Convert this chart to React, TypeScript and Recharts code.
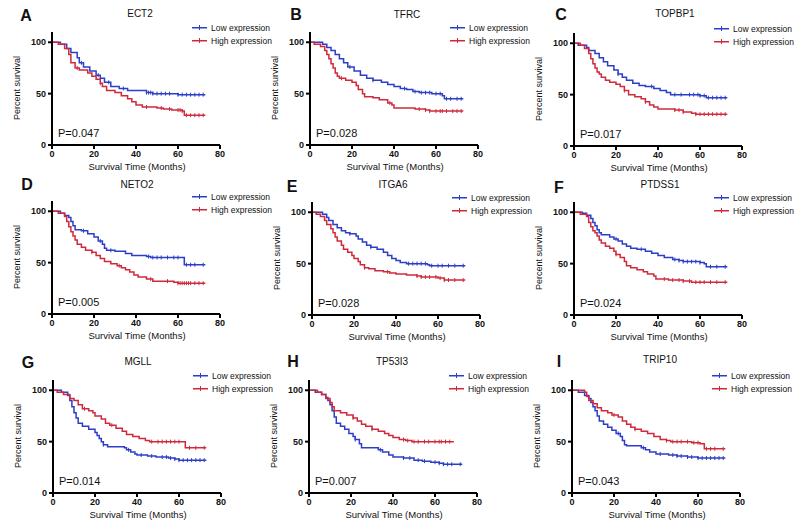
import React from 'react';
import { LineChart, Line, XAxis, YAxis } from 'recharts';

type Step = [number, number];

const timeTicks = [0, 20, 40, 60, 80];
const survivalTicks = [0, 50, 100];
const seriesNames = ['Low expression', 'High expression'];
const seriesColors = ['#2c3ec6', '#cf2a3c'];

// survival steps [month, percent] and censor months
const ect2Low: Step[] = [[0, 100], [4, 98], [7, 94], [9, 90], [12, 85], [13, 80], [15, 76], [18, 72], [21, 68], [23, 65], [25, 61], [28, 57], [32, 55], [36, 53], [45, 51], [48, 50], [60, 49]];
const ect2High: Step[] = [[0, 100], [3, 98], [6, 94], [8, 88], [9, 80], [11, 75], [13, 73], [17, 70], [19, 67], [21, 64], [23, 60], [24, 57], [26, 53], [30, 51], [33, 48], [36, 45], [38, 42], [40, 39], [43, 37], [50, 36], [53, 35], [57, 34], [62, 33], [63, 29]];
const ect2LowCens = [14, 22, 27, 34, 45, 46, 47, 48, 50, 52, 54, 56, 60, 62, 64, 66, 68, 70, 72];
const ect2HighCens = [12, 23, 45, 52, 56, 60, 61, 62, 64, 66, 68, 70, 72];

const tfrcLow: Step[] = [[0, 100], [6, 98], [8, 95], [10, 92], [12, 88], [14, 84], [16, 80], [18, 76], [21, 72], [24, 68], [27, 65], [30, 63], [34, 61], [37, 59], [40, 57], [43, 55], [46, 54], [49, 52], [52, 51], [58, 50], [63, 48], [64, 45]];
const tfrcHigh: Step[] = [[0, 100], [2, 98], [5, 96], [7, 92], [8, 88], [9, 84], [10, 79], [11, 75], [12, 70], [13, 67], [14, 65], [17, 63], [20, 61], [22, 58], [23, 54], [25, 50], [26, 47], [30, 46], [33, 44], [37, 41], [39, 39], [40, 36], [50, 35], [55, 34], [57, 33]];
const tfrcLowCens = [19, 30, 45, 50, 53, 55, 57, 60, 62, 65, 67, 70, 72];
const tfrcHighCens = [15, 38, 52, 55, 57, 60, 62, 63, 65, 68, 70, 72];

const topbp1Low: Step[] = [[0, 100], [2, 98], [6, 96], [7, 93], [10, 90], [12, 86], [14, 82], [16, 78], [19, 74], [21, 70], [23, 67], [25, 64], [28, 61], [31, 59], [34, 58], [38, 56], [41, 54], [44, 52], [46, 50], [60, 49], [63, 47]];
const topbp1High: Step[] = [[0, 100], [3, 98], [5, 95], [7, 90], [8, 85], [9, 80], [10, 76], [11, 72], [12, 70], [13, 67], [15, 64], [17, 62], [20, 60], [22, 58], [24, 54], [26, 50], [29, 48], [32, 46], [34, 43], [36, 40], [38, 38], [40, 36], [48, 35], [52, 33], [56, 32], [58, 31]];
const topbp1LowCens = [21, 37, 48, 51, 55, 57, 59, 60, 62, 64, 66, 68, 70, 72];
const topbp1HighCens = [24, 34, 48, 50, 52, 58, 60, 62, 64, 66, 68, 70, 72];

const neto2Low: Step[] = [[0, 100], [4, 98], [6, 96], [8, 94], [9, 90], [10, 86], [11, 82], [14, 81], [17, 78], [20, 75], [22, 71], [24, 68], [25, 64], [26, 62], [30, 61], [35, 59], [38, 57], [45, 56], [47, 55], [63, 48]];
const neto2High: Step[] = [[0, 100], [3, 98], [6, 95], [7, 90], [8, 85], [9, 80], [10, 76], [11, 72], [12, 68], [14, 65], [16, 62], [19, 60], [21, 57], [23, 54], [25, 51], [28, 49], [31, 47], [33, 45], [35, 43], [37, 41], [39, 38], [41, 36], [45, 34], [48, 32], [58, 31], [60, 30]];
const neto2LowCens = [15, 23, 28, 46, 48, 50, 52, 55, 58, 60, 64, 66, 68, 72];
const neto2HighCens = [19, 32, 47, 55, 60, 61, 62, 63, 64, 65, 66, 68, 70, 72];

const itga6Low: Step[] = [[0, 100], [5, 98], [7, 95], [8, 92], [10, 88], [12, 85], [14, 82], [16, 80], [18, 79], [21, 77], [22, 74], [24, 71], [26, 68], [28, 66], [31, 64], [34, 61], [36, 58], [38, 55], [40, 53], [42, 51], [45, 50], [55, 49], [56, 48]];
const itga6High: Step[] = [[0, 100], [2, 98], [4, 96], [6, 92], [7, 88], [9, 84], [10, 80], [11, 76], [12, 72], [14, 68], [15, 64], [17, 61], [19, 58], [20, 55], [22, 52], [23, 49], [25, 46], [27, 45], [30, 43], [34, 42], [37, 41], [40, 40], [45, 39], [50, 38], [52, 37], [60, 36], [63, 34]];
const itga6LowCens = [18, 28, 46, 48, 50, 52, 54, 57, 60, 62, 65, 68, 72];
const itga6HighCens = [25, 36, 50, 52, 54, 56, 59, 61, 63, 65, 68, 72];

const ptdss1Low: Step[] = [[0, 100], [4, 99], [6, 97], [8, 94], [9, 90], [10, 87], [11, 83], [12, 80], [13, 78], [17, 76], [19, 74], [21, 72], [23, 69], [25, 67], [27, 65], [30, 64], [34, 62], [37, 60], [40, 58], [43, 56], [47, 54], [50, 53], [52, 52], [60, 51], [62, 50], [63, 47]];
const ptdss1High: Step[] = [[0, 100], [3, 98], [6, 96], [7, 90], [8, 86], [9, 82], [10, 80], [11, 77], [12, 73], [13, 70], [15, 67], [17, 65], [19, 62], [20, 59], [22, 56], [24, 52], [25, 48], [27, 46], [30, 44], [33, 42], [35, 40], [38, 38], [39, 35], [45, 34], [52, 33], [56, 32]];
const ptdss1LowCens = [20, 32, 48, 50, 52, 54, 56, 58, 60, 65, 68, 72];
const ptdss1HighCens = [20, 43, 47, 50, 52, 55, 58, 60, 62, 65, 68, 72];

const mgllLow: Step[] = [[0, 100], [4, 98], [7, 95], [8, 90], [9, 84], [10, 78], [11, 73], [12, 68], [14, 65], [17, 62], [20, 59], [21, 56], [22, 53], [23, 50], [24, 47], [26, 45], [34, 44], [35, 42], [37, 40], [39, 38], [40, 37], [45, 36], [49, 35], [55, 34], [58, 33], [60, 32]];
const mgllHigh: Step[] = [[0, 100], [2, 98], [5, 96], [8, 92], [10, 90], [12, 86], [14, 82], [17, 80], [19, 78], [20, 75], [23, 72], [25, 68], [27, 66], [30, 63], [33, 60], [35, 57], [38, 55], [41, 53], [44, 51], [46, 50], [63, 44]];
const mgllLowCens = [24, 36, 42, 47, 52, 54, 56, 58, 60, 62, 64, 66, 68, 70, 72];
const mgllHighCens = [15, 28, 47, 50, 52, 54, 56, 58, 60, 65, 68, 72];

const tp53i3Low: Step[] = [[0, 100], [3, 98], [6, 96], [8, 93], [9, 90], [10, 86], [11, 80], [12, 74], [13, 68], [15, 65], [17, 62], [19, 58], [21, 55], [22, 52], [24, 48], [25, 44], [33, 42], [35, 40], [38, 37], [40, 35], [45, 34], [50, 32], [54, 31], [58, 30], [62, 29], [64, 28]];
const tp53i3High: Step[] = [[0, 100], [4, 98], [6, 96], [8, 92], [10, 88], [11, 84], [12, 80], [15, 78], [18, 76], [21, 73], [23, 70], [25, 67], [27, 65], [30, 62], [33, 60], [36, 58], [38, 56], [40, 54], [43, 52], [46, 51], [49, 50]];
const tp53i3LowCens = [22, 34, 45, 48, 52, 55, 60, 62, 64, 66, 68, 72];
const tp53i3HighCens = [21, 30, 45, 47, 50, 52, 55, 57, 60, 62, 63, 65, 67];

const trip10Low: Step[] = [[0, 100], [3, 98], [6, 95], [8, 92], [9, 88], [10, 84], [11, 80], [12, 75], [13, 70], [15, 67], [17, 64], [19, 61], [21, 58], [23, 55], [24, 51], [25, 47], [26, 46], [33, 44], [35, 42], [37, 40], [40, 38], [46, 37], [50, 36], [55, 35], [60, 34]];
const trip10High: Step[] = [[0, 100], [6, 98], [7, 94], [8, 90], [10, 87], [12, 83], [14, 80], [17, 78], [19, 76], [22, 74], [24, 70], [26, 67], [28, 64], [30, 62], [33, 60], [36, 58], [39, 55], [42, 52], [45, 51], [47, 50], [57, 49], [61, 48], [63, 43]];
const trip10LowCens = [22, 34, 42, 48, 50, 52, 55, 57, 60, 62, 64, 66, 68, 70, 72];
const trip10HighCens = [20, 30, 45, 48, 50, 52, 55, 58, 60, 64, 66, 68, 72];

// follow-up end (months) per curve
const lowEnds = [73, 73, 73, 73, 73, 73, 73, 73, 73];
const highEnds = [73, 73, 73, 73, 73, 73, 73, 69, 73];

const genes = ['ECT2', 'TFRC', 'TOPBP1', 'NETO2', 'ITGA6', 'PTDSS1', 'MGLL', 'TP53I3', 'TRIP10'];
const letters = ['A', 'B', 'C', 'D', 'E', 'F', 'G', 'H', 'I'];
const pValues = ['P=0.047', 'P=0.028', 'P=0.017', 'P=0.005', 'P=0.028', 'P=0.024', 'P=0.014', 'P=0.007', 'P=0.043'];

const lowSteps = [ect2Low, tfrcLow, topbp1Low, neto2Low, itga6Low, ptdss1Low, mgllLow, tp53i3Low, trip10Low];
const highSteps = [ect2High, tfrcHigh, topbp1High, neto2High, itga6High, ptdss1High, mgllHigh, tp53i3High, trip10High];
const lowCens = [ect2LowCens, tfrcLowCens, topbp1LowCens, neto2LowCens, itga6LowCens, ptdss1LowCens, mgllLowCens, tp53i3LowCens, trip10LowCens];
const highCens = [ect2HighCens, tfrcHighCens, topbp1HighCens, neto2HighCens, itga6HighCens, ptdss1HighCens, mgllHighCens, tp53i3HighCens, trip10HighCens];

// layout: axis origin, panel letter centre, title centre
const layout = [
  { ax: 52, ay: 145, lx: 26, ly: 16, tx: 140, ty: 14 },
  { ax: 310, ay: 145, lx: 296, ly: 15, tx: 407, ty: 15 },
  { ax: 574, ay: 145.5, lx: 561, ly: 15, tx: 675, ty: 14 },
  { ax: 52, ay: 313.5, lx: 27, ly: 185, tx: 137, ty: 185 },
  { ax: 312, ay: 315, lx: 292, ly: 187, tx: 393, ty: 185 },
  { ax: 574, ay: 315, lx: 559, ly: 188, tx: 660, ty: 185 },
  { ax: 53, ay: 493, lx: 28, ly: 363, tx: 138, ty: 362 },
  { ax: 309, ay: 492.5, lx: 293, ly: 362, tx: 392, ty: 362 },
  { ax: 572, ay: 492.5, lx: 559, ly: 362, tx: 660, ty: 360 },
];

const PLOT_W = 168;
const PLOT_H = 113;
const Y_W = 35;
const TOP = 5;

const kmSeries = (steps: Step[], cens: number[], end: number) => {
  const valueAt = (t: number) => {
    let v = steps[0][1];
    steps.forEach(([st, sv]) => { if (st <= t) v = sv; });
    return v;
  };
  const pts = [
    ...steps.map(([t, s]) => ({ t, s, c: false })),
    ...cens.filter((t) => t <= end).map((t) => ({ t, s: valueAt(t), c: true })),
    { t: end, s: valueAt(end), c: false },
  ];
  return pts.sort((a, b) => a.t - b.t);
};

const renderCensor = (props: any) => {
  const { cx, cy, payload, stroke, index } = props;
  if (!payload || !payload.c || cx == null) return <g key={`c${index}`} />;
  return <line key={`c${index}`} x1={cx} x2={cx} y1={cy - 2} y2={cy + 2} stroke={stroke} strokeWidth={1} />;
};

const Txt = ({ x, y, size, bold, start, rotate, children }: any) => (
  <div
    style={{
      position: 'absolute',
      left: x,
      top: y,
      transform: `translate(${start ? '0' : '-50%'}, -50%)${rotate ? ' rotate(-90deg)' : ''}`,
      fontSize: size,
      fontWeight: bold ? 700 : 400,
      whiteSpace: 'nowrap',
      lineHeight: 1,
      color: '#111',
    }}
  >
    {children}
  </div>
);

const Panel = ({ i }: { i: number }) => {
  const L = layout[i];
  const low = kmSeries(lowSteps[i], lowCens[i], lowEnds[i]);
  const high = kmSeries(highSteps[i], highCens[i], highEnds[i]);
  const tickStyle = { fontSize: 9, fontWeight: 700, fill: '#111', fontFamily: 'Liberation Sans, Arial, sans-serif' };
  const legX = Math.round(L.ax + 140);
  const legY = Math.round(L.ay - 118);
  return (
    <>
      <div style={{ position: 'absolute', left: L.ax - Y_W, top: L.ay - PLOT_H - TOP }}>
        <LineChart width={Y_W + PLOT_W + 14} height={TOP + PLOT_H + 20} margin={{ top: TOP, right: 14, bottom: 0, left: 0 }}>
          <XAxis
            type="number"
            dataKey="t"
            domain={[0, 80]}
            ticks={timeTicks}
            interval={0}
            height={20}
            tickSize={4}
            tick={tickStyle}
            axisLine={{ stroke: '#000', strokeWidth: 2 }}
            tickLine={{ stroke: '#000', strokeWidth: 2 }}
            allowDataOverflow
          />
          <YAxis
            type="number"
            dataKey="s"
            domain={[0, 110]}
            ticks={survivalTicks}
            interval={0}
            width={Y_W}
            tickSize={4}
            tick={tickStyle}
            axisLine={{ stroke: '#000', strokeWidth: 2 }}
            tickLine={{ stroke: '#000', strokeWidth: 2 }}
            allowDataOverflow
          />
          <Line data={low} type="stepAfter" dataKey="s" stroke={seriesColors[0]} strokeWidth={1.5} dot={renderCensor} activeDot={false} isAnimationActive={false} />
          <Line data={high} type="stepAfter" dataKey="s" stroke={seriesColors[1]} strokeWidth={1.5} dot={renderCensor} activeDot={false} isAnimationActive={false} />
        </LineChart>
      </div>
      <Txt x={L.lx} y={L.ly} size={16} bold>{letters[i]}</Txt>
      <Txt x={L.tx} y={L.ty} size={10}>{genes[i]}</Txt>
      {seriesNames.map((name, k) => (
        <React.Fragment key={name}>
          <div style={{ position: 'absolute', left: legX, top: legY + k * 13, width: 15, height: 1, background: seriesColors[k], boxShadow: `0 0.5px 0 ${seriesColors[k]}` }} />
          <div style={{ position: 'absolute', left: legX + 7, top: legY + k * 13 - 2, width: 1, height: 5, background: seriesColors[k] }} />
          <Txt x={legX + 19} y={legY + k * 13 + 0.5} size={8.5} start>{name}</Txt>
        </React.Fragment>
      ))}
      <Txt x={L.ax - 35} y={L.ay - 57} size={9} rotate>Percent survival</Txt>
      <Txt x={L.ax + 6} y={L.ay - 12} size={11} start>{pValues[i]}</Txt>
      <Txt x={L.ax + 85} y={L.ay + 22} size={9.5}>Survival Time (Months)</Txt>
    </>
  );
};

export default function App() {
  return (
    <div
      style={{
        position: 'absolute',
        left: 0,
        top: 0,
        width: 800,
        height: 531,
        background: '#fff',
        overflow: 'hidden',
        fontFamily: 'Liberation Sans, Arial, sans-serif',
      }}
    >
      {genes.map((g, i) => (
        <Panel key={g} i={i} />
      ))}
    </div>
  );
}
